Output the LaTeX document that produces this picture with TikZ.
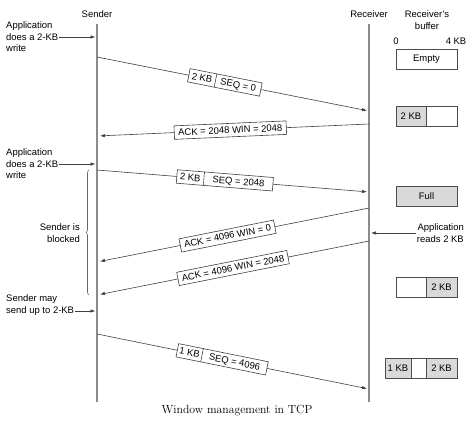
\documentclass[tikz,border=0pt]{standalone}
\usepackage{fontspec}
\setsansfont{Liberation Sans}
\usepackage{tikz}
\usetikzlibrary{arrows.meta,decorations.pathreplacing}

\newcommand{\lblstrut}{\rule[-3.5bp]{0pt}{13.5bp}}
\newcommand{\seglbl}[4]{\makebox[#1]{#2}\vrule\makebox[#3]{#4}}

\begin{document}
\begin{tikzpicture}[
  x=1bp, y=-1bp,
  every node/.style={font=\sffamily\fontsize{9.5}{11.5}\selectfont, inner sep=1bp},
  life/.style={draw=black!45, line width=1.4bp},
  msg/.style={-{Latex[length=5bp,width=3.5bp]}, draw=black!75, line width=0.6bp},
  lbl/.style={draw=black!75, fill=white, sloped, inner sep=0pt, execute at begin node=\lblstrut},
  acklbl/.style={lbl, inner xsep=4bp},
  buf/.style={draw=black!70, minimum height=20bp, inner sep=0pt},
  bufg/.style={buf, fill=black!15},
  brc/.style={draw=black!60, line width=0.6bp, decorate, decoration={brace, amplitude=3bp}}
]
\useasboundingbox (0,0) rectangle (474,423);

% Headers
\node (snd) at (97,14) {Sender};
\node (rcv) at (369,14) {Receiver};
\node[align=center] (rbuf) at (427,20) {Receiver's\\buffer};
\node (b0) at (396,41) {0};
\node (b4) at (456,41) {4 KB};

% Lifelines
\coordinate (sndtop) at (97,24);
\coordinate (sndbot) at (97,402);
\coordinate (rcvtop) at (369,24);
\coordinate (rcvbot) at (369,402);
\draw[life] (sndtop) -- (sndbot);
\draw[life] (rcvtop) -- (rcvbot);

% Points on the lifelines
\coordinate (w1) at (97,37);
\coordinate (s1) at (97,57);   \coordinate (r1) at (369,111);
\coordinate (r2) at (369,124); \coordinate (s2) at (97,136);
\coordinate (w2) at (97,164);
\coordinate (s3) at (97,170);  \coordinate (r3) at (369,192);
\coordinate (r4) at (369,208); \coordinate (s4) at (97,262);
\coordinate (rd) at (369,233);
\coordinate (r5) at (369,241); \coordinate (s5) at (97,295);
\coordinate (w3) at (97,311);
\coordinate (s6) at (97,334);  \coordinate (r6) at (369,389);

% Application writes
\node[align=left, anchor=west] (app1) at (5,37) {Application\\does a 2-KB\\write};
\draw[msg, shorten >=1.5bp] (app1.east) -- (w1);
\node[align=left, anchor=west] (app2) at (5,164) {Application\\does a 2-KB\\write};
\draw[msg, shorten >=1.5bp] (app2.east) -- (w2);

% Segments and acks
\draw[msg, shorten >=2bp] (s1) -- node[lbl, pos=0.47] {\seglbl{27bp}{2 KB}{46bp}{SEQ = 0}} (r1);
\draw[msg, shorten >=3bp] (r2) -- node[acklbl, pos=0.51] {ACK = 2048 WIN = 2048} (s2);
\draw[msg, shorten >=2bp] (s3) -- node[lbl, pos=0.47] {\seglbl{27bp}{2 KB}{69bp}{SEQ = 2048}} (r3);
\draw[msg, shorten >=3bp] (r4) -- node[acklbl, pos=0.52] {ACK = 4096 WIN = 0} (s4);
\draw[msg, shorten >=3bp] (r5) -- node[acklbl, pos=0.50] {ACK = 4096 WIN = 2048} (s5);
\draw[msg, shorten >=2bp] (s6) -- node[lbl, pos=0.46] {\seglbl{25bp}{1 KB}{66bp}{SEQ = 4096}} (r6);

% Sender blocked
\coordinate (bt) at (89,170);
\coordinate (bb) at (89,295);
\draw[brc] (bb) -- (bt);
\node[align=right, anchor=east] (blk) at (81,233) {Sender is\\blocked};

% Sender may send
\node[align=left, anchor=west] (may) at (5,305) {Sender may\\send up to 2-KB};
\draw[msg, shorten >=1.5bp] (may.east |- w3) -- (w3);

% Application reads
\node[align=right, anchor=east] (rds) at (465,233) {Application\\reads 2 KB};
\draw[msg, shorten >=2bp] (rds.west) -- (rd);

% Receiver's buffer
\node[buf, minimum width=61bp] (e1) at (426.5,59) {Empty};
\node[bufg, minimum width=30bp] (f1) at (411,116.5) {2 KB};
\node[buf, minimum width=31bp] (f2) at (441.5,116.5) {};
\node[bufg, minimum width=61bp] (g1) at (426.5,196) {Full};
\node[buf, minimum width=30bp] (h1) at (411,287) {};
\node[bufg, minimum width=31bp] (h2) at (441.5,287) {2 KB};
\node[bufg, minimum width=26bp] (k1) at (398,368.5) {1 KB};
\node[buf, minimum width=15bp] (k2) at (418.5,368.5) {};
\node[bufg, minimum width=31bp] (k3) at (441.5,368.5) {2 KB};

% Caption
\node[font=\rmfamily\fontsize{11.8}{14}\selectfont] (cap) at (237,411) {Window management in TCP};

\end{tikzpicture}
\end{document}
